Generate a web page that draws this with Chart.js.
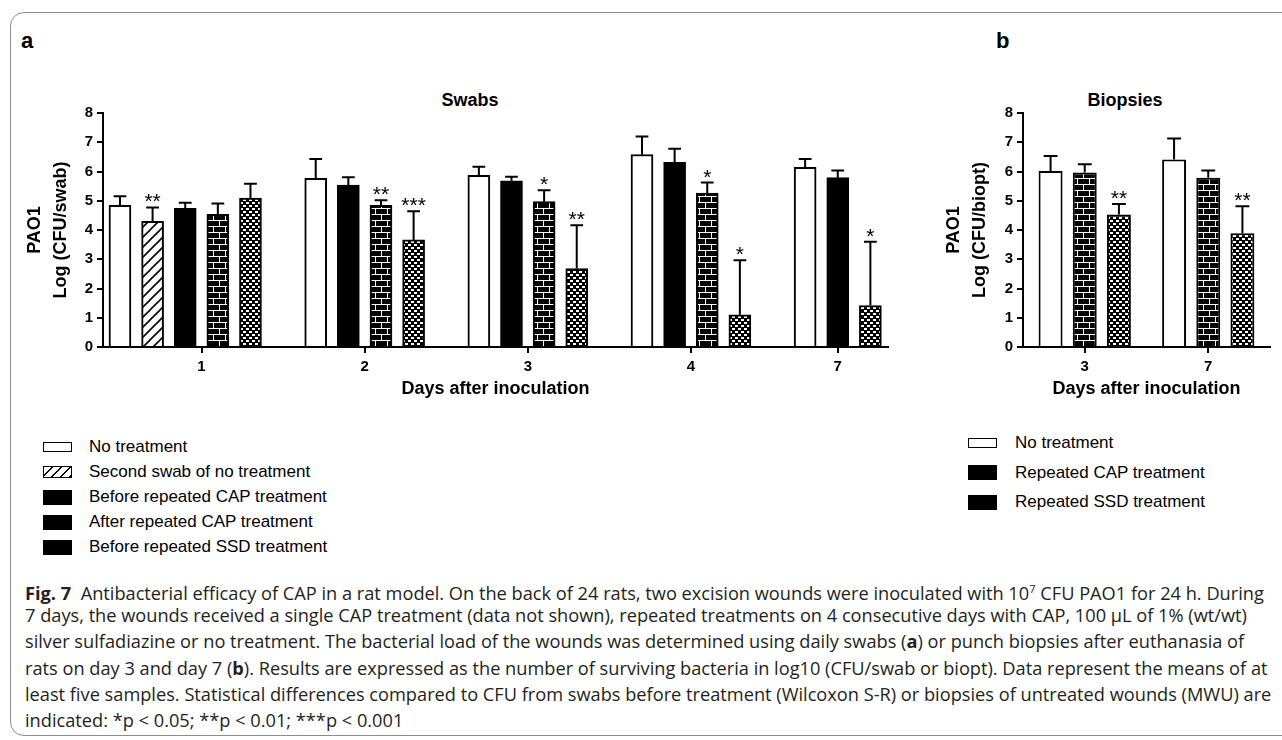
<!DOCTYPE html>
<html>
<head>
<meta charset="utf-8">
<script src="https://cdn.jsdelivr.net/npm/chart.js@4.4.1/dist/chart.umd.min.js"></script>
<style>
  body { margin: 0; width: 1282px; height: 740px; background: #fff; position: relative; overflow: hidden; font-family: "Liberation Sans", Arial, sans-serif; }
  .frame { position: absolute; left: 10px; top: 12px; width: 1320px; height: 722px; border: 1.5px solid #8c8c8c; border-radius: 14px; }
  .abs { position: absolute; white-space: nowrap; }
  .panel { font-weight: bold; font-size: 22px; }
  .ttl { font-weight: bold; font-size: 18px; transform: translateX(-50%); }
  .leg { position: absolute; font-size: 17px; line-height: 20px; white-space: nowrap; }
  .sw { position: absolute; width: 29px; height: 12px; border: 1.5px solid #000; box-sizing: border-box; }
  .caption { position: absolute; left: 25px; top: 576px; font-family: "Open Sans", sans-serif; font-size: 18px; color: #231f20; transform-origin: 0 0; }
  .caption div { height: 26.2px; line-height: 26px; white-space: nowrap; }
</style>
</head>
<body>
<div class="frame"></div>
<div class="abs panel" style="left:21px;top:28px">a</div>
<div class="abs panel" style="left:996px;top:28px">b</div>
<div class="abs ttl" style="left:470px;top:90px">Swabs</div>
<div class="abs ttl" style="left:1125px;top:90px">Biopsies</div>

<div class="abs" style="left:0;top:100px;width:900px;height:300px"><canvas id="swabs" width="900" height="300"></canvas></div>
<div class="abs" style="left:900px;top:100px;width:382px;height:300px"><canvas id="biopsies" width="382" height="300"></canvas></div>

<div id="legendA"></div>
<div id="legendB"></div>

<div class="caption" id="caption">
  <div><b style="font-weight:700">Fig. 7</b>&nbsp; Antibacterial efficacy of CAP in a rat model. On the back of 24 rats, two excision wounds were inoculated with 10<sup style="font-size:11px">7</sup> CFU PAO1 for 24 h. During</div>
  <div>7 days, the wounds received a single CAP treatment (data not shown), repeated treatments on 4 consecutive days with CAP, 100 μL of 1% (wt/wt)</div>
  <div>silver sulfadiazine or no treatment. The bacterial load of the wounds was determined using daily swabs (<b>a</b>) or punch biopsies after euthanasia of</div>
  <div>rats on day 3 and day 7 (<b>b</b>). Results are expressed as the number of surviving bacteria in log10 (CFU/swab or biopt). Data represent the means of at</div>
  <div>least five samples. Statistical differences compared to CFU from swabs before treatment (Wilcoxon S-R) or biopsies of untreated wounds (MWU) are</div>
  <div>indicated: *p &lt; 0.05; **p &lt; 0.01; ***p &lt; 0.001</div>
</div>

<script>
// ---- panel a: swabs ----
const days = ['1', '2', '3', '4', '7'];
const noTreatment     = [4.84, 5.77, 5.87, 6.58, 6.14];
const noTreatmentErr  = [0.31, 0.66, 0.29, 0.62, 0.29];
const secondSwab      = [4.30, null, null, null, null];
const secondSwabErr   = [0.47, null, null, null, null];
const beforeCap       = [4.74, 5.54, 5.68, 6.31, 5.79];
const beforeCapErr    = [0.19, 0.26, 0.14, 0.47, 0.24];
const afterCap        = [4.54, 4.84, 4.97, 5.26, null];
const afterCapErr     = [0.37, 0.18, 0.39, 0.36, null];
const beforeSsd       = [5.09, 3.66, 2.68, 1.10, 1.42];
const beforeSsdErr    = [0.49, 0.98, 1.48, 1.87, 2.18];
const secondSwabStars = ['**', null, null, null, null];
const afterCapStars   = [null, '**', '*', '*', null];
const beforeSsdStars  = [null, '***', '**', '*', '*'];

// ---- panel b: biopsies ----
const daysB = ['3', '7'];
const bNoTreatment    = [6.02, 6.41];
const bNoTreatmentErr = [0.51, 0.72];
const bCap            = [5.97, 5.79];
const bCapErr         = [0.28, 0.24];
const bSsd            = [4.53, 3.89];
const bSsdErr         = [0.36, 0.92];
const bSsdStars       = ['**', '**'];

const yTicks = [0, 1, 2, 3, 4, 5, 6, 7, 8];

Chart.defaults.font.family = '"Liberation Sans", Arial, sans-serif';
Chart.defaults.color = '#000';

function pattern(kind) {
  const c = document.createElement('canvas');
  const g = c.getContext('2d');
  if (kind === 'hatch') {
    c.width = 10; c.height = 10;
    g.fillStyle = '#fff'; g.fillRect(0, 0, 10, 10);
    g.strokeStyle = '#000'; g.lineWidth = 1.6;
    g.beginPath();
    g.moveTo(-1, 11); g.lineTo(11, -1);
    g.moveTo(-1, 1); g.lineTo(1, -1);
    g.moveTo(9, 11); g.lineTo(11, 9);
    g.stroke();
  } else if (kind === 'brick') {
    c.width = 12; c.height = 12;
    g.fillStyle = '#000'; g.fillRect(0, 0, 12, 12);
    g.fillStyle = '#fff';
    g.fillRect(0, 0, 12, 1); g.fillRect(0, 6, 12, 1);
    g.fillRect(3, 0, 1, 6); g.fillRect(9, 6, 1, 6);
  } else {
    c.width = 6; c.height = 6;
    g.fillStyle = '#000'; g.fillRect(0, 0, 6, 6);
    g.fillStyle = '#fff';
    g.fillRect(0, 0, 3, 2); g.fillRect(3, 3, 3, 2);
  }
  return g.createPattern(c, 'repeat');
}

const fills = {
  white: '#fff',
  hatch: pattern('hatch'),
  black: '#000',
  brick: pattern('brick'),
  dots: pattern('dots')
};

// upper whisker + significance stars, drawn through the y scale
const errorBars = {
  id: 'errorBars',
  afterDatasetsDraw(chart) {
    const ctx = chart.ctx;
    const y = chart.scales.y;
    chart.data.datasets.forEach((ds, i) => {
      const meta = chart.getDatasetMeta(i);
      meta.data.forEach((bar, j) => {
        const d = ds.data[j];
        const v = (d !== null && typeof d === 'object') ? d.y : d;
        const e = ds.errors[j];
        if (v == null || e == null) return;
        const top = y.getPixelForValue(v + e);
        const half = bar.width * 0.29;
        ctx.save();
        ctx.strokeStyle = '#000';
        ctx.lineWidth = 2;
        ctx.beginPath();
        ctx.moveTo(bar.x, bar.y);
        ctx.lineTo(bar.x, top);
        ctx.moveTo(bar.x - half, top);
        ctx.lineTo(bar.x + half, top);
        ctx.stroke();
        const s = ds.stars && ds.stars[j];
        if (s) {
          ctx.fillStyle = '#000';
          ctx.font = '21px "Liberation Sans", Arial';
          ctx.textAlign = 'center';
          ctx.textBaseline = 'alphabetic';
          ctx.fillText(s, bar.x, top + 1);
        }
        ctx.restore();
      });
    });
  }
};

// panel a: lay the bars of each day side by side, one empty slot between days
const seriesA = [
  { label: 'No treatment', values: noTreatment, errors: noTreatmentErr, fill: fills.white },
  { label: 'Second swab of no treatment', values: secondSwab, errors: secondSwabErr, stars: secondSwabStars, fill: fills.hatch },
  { label: 'Before repeated CAP treatment', values: beforeCap, errors: beforeCapErr, fill: fills.black },
  { label: 'After repeated CAP treatment', values: afterCap, errors: afterCapErr, stars: afterCapStars, fill: fills.brick },
  { label: 'Before repeated SSD treatment', values: beforeSsd, errors: beforeSsdErr, stars: beforeSsdStars, fill: fills.dots }
];

const datasetsA = seriesA.map(s => ({ label: s.label, data: [], errors: [], stars: [], backgroundColor: s.fill }));
const dayTicks = [];
let slot = 0;
days.forEach((day, d) => {
  const first = slot;
  seriesA.forEach((s, k) => {
    if (s.values[d] == null) return;
    datasetsA[k].data.push({ x: slot, y: s.values[d] });
    datasetsA[k].errors.push(s.errors[d]);
    datasetsA[k].stars.push(s.stars ? s.stars[d] : null);
    slot++;
  });
  // Prism reserves a sixth (empty) slot on day 1, so its tick sits half a slot right
  const centre = (first + slot - 1) / 2 + (d === 0 ? 0.5 : 0);
  dayTicks.push({ value: centre, label: day });
  slot++;
});
const lastSlot = slot - 2;

function axisY(titleLines, titlePad, width) {
  return {
    min: 0, max: 8,
    afterBuildTicks: sc => { sc.ticks = yTicks.map(v => ({ value: v })); },
    ticks: { font: { size: 15, weight: 'bold' }, padding: 4 },
    grid: { drawOnChartArea: false, drawTicks: true, tickLength: 6, color: '#000', lineWidth: 2 },
    border: { display: true, color: '#000', width: 2 },
    title: { display: true, text: titleLines, font: { size: 18, weight: 'bold', lineHeight: 1.45 }, padding: { top: titlePad, bottom: 0 } },
    afterFit: sc => { sc.width = width; }
  };
}

const xTitle = { display: true, text: 'Days after inoculation', font: { size: 18, weight: 'bold', lineHeight: 1.2 }, padding: { top: 0, bottom: 0 } };

new Chart(document.getElementById('swabs'), {
  type: 'bar',
  data: { datasets: datasetsA },
  options: {
    responsive: false,
    animation: false,
    layout: { padding: { top: 8, right: 12, left: 0, bottom: 0 } },
    datasets: { bar: { grouped: false, barThickness: 22, borderColor: '#000', borderWidth: 2 } },
    plugins: { legend: { display: false }, tooltip: { enabled: false } },
    scales: {
      x: {
        type: 'linear',
        min: -0.52, max: lastSlot + 0.54,
        offset: false,
        afterBuildTicks: sc => { sc.ticks = dayTicks.map(t => ({ value: t.value })); },
        ticks: {
          font: { size: 15, weight: 'bold' }, padding: 5,
          callback: v => (dayTicks.find(t => t.value === v) || {}).label
        },
        grid: { drawOnChartArea: false, drawTicks: true, tickLength: 6, color: '#000', lineWidth: 2, offset: false },
        border: { display: true, color: '#000', width: 2 },
        title: xTitle,
        afterFit: sc => { sc.height = 53; }
      },
      y: axisY(['PAO1', 'Log (CFU/swab)'], 22, 103)
    }
  },
  plugins: [errorBars]
});

new Chart(document.getElementById('biopsies'), {
  type: 'bar',
  data: {
    labels: daysB,
    datasets: [
      { label: 'No treatment', data: bNoTreatment, errors: bNoTreatmentErr, backgroundColor: fills.white },
      { label: 'Repeated CAP treatment', data: bCap, errors: bCapErr, backgroundColor: fills.brick },
      { label: 'Repeated SSD treatment', data: bSsd, errors: bSsdErr, stars: bSsdStars, backgroundColor: fills.dots }
    ]
  },
  options: {
    responsive: false,
    animation: false,
    layout: { padding: { top: 8, right: 12, left: 0, bottom: 0 } },
    datasets: { bar: { categoryPercentage: 0.83, barPercentage: 0.7, borderColor: '#000', borderWidth: 2 } },
    plugins: { legend: { display: false }, tooltip: { enabled: false } },
    scales: {
      x: {
        ticks: { font: { size: 15, weight: 'bold' }, padding: 5 },
        grid: { drawOnChartArea: false, drawTicks: true, tickLength: 6, color: '#000', lineWidth: 2, offset: false },
        border: { display: true, color: '#000', width: 2 },
        title: xTitle,
        afterFit: sc => { sc.height = 53; }
      },
      y: axisY(['PAO1', 'Log (CFU/biopt)'], 41, 123)
    }
  },
  plugins: [errorBars]
});

// legends, drawn as in the figure (patterned swatches print as solid black except the hatch)
const swatchCss = {
  white: 'background:#fff;height:10px',
  hatch: 'background:repeating-linear-gradient(135deg,#fff 0 5px,#000 5px 6.5px);height:12px',
  black: 'background:#000;height:15px'
};
function legend(el, items, x, textX, y0, step) {
  items.forEach((it, i) => {
    const y = y0 + i * step;
    const sw = document.createElement('div');
    sw.className = 'sw';
    sw.style.cssText = swatchCss[it[1]] + ';left:' + x + 'px;';
    sw.style.top = (y - parseFloat(sw.style.height) / 2) + 'px';
    el.appendChild(sw);
    const t = document.createElement('div');
    t.className = 'leg';
    t.textContent = it[0];
    t.style.left = textX + 'px';
    t.style.top = (y - 10) + 'px';
    el.appendChild(t);
  });
}
legend(document.getElementById('legendA'), [
  ['No treatment', 'white'],
  ['Second swab of no treatment', 'hatch'],
  ['Before repeated CAP treatment', 'black'],
  ['After repeated CAP treatment', 'black'],
  ['Before repeated SSD treatment', 'black']
], 43, 89, 447, 25);
legend(document.getElementById('legendB'), [
  ['No treatment', 'white'],
  ['Repeated CAP treatment', 'black'],
  ['Repeated SSD treatment', 'black']
], 968, 1015, 443, 29.5);

// fit caption lines to the printed width
const cap = document.getElementById('caption');
const firstLine = cap.children[0];
const w = firstLine.scrollWidth;
cap.style.transform = 'scaleX(' + (1246 / w) + ')';
</script>
</body>
</html>
